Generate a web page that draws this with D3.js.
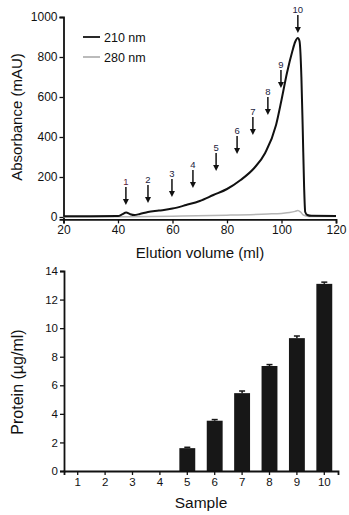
<!DOCTYPE html>
<html>
<head>
<meta charset="utf-8">
<script src="https://cdn.jsdelivr.net/npm/d3@7"></script>
<style>
body { margin: 0; background: #fff; }
svg text { font-family: "Liberation Sans", Arial, sans-serif; }
</style>
</head>
<body>
<svg id="chartSVG" width="349" height="515"></svg>
<script>
/* ---------- Data ---------- */
// 210 nm trace (elution volume in ml, absorbance in mAU)
const volume210 = [20, 30, 40, 41.5, 43, 44.5, 46, 48, 51, 55, 60, 65, 70, 75, 80, 85, 90, 94, 98, 100, 102, 104, 105, 106, 106.6, 107.3, 107.8, 108.3, 108.7, 109.5, 111, 120];
const abs210 = [4, 4, 5, 13, 22, 14, 10, 15, 25, 32, 42, 60, 80, 110, 140, 185, 245, 320, 460, 585, 720, 830, 875, 895, 880, 700, 435, 150, 25, 10, 6, 5];
// 280 nm trace
const volume280 = [20, 40, 60, 80, 95, 100, 103, 105, 106, 107, 108, 110, 120];
const abs280 = [0, 1, 4, 9, 15, 18, 22, 28, 33, 25, 10, 3, 2];
// fraction arrows
const fractionLabels = ["1", "2", "3", "4", "5", "6", "7", "8", "9", "10"];
const fractionVolume = [42.9, 51.0, 59.8, 67.5, 76.0, 83.7, 89.5, 95.0, 99.8, 106.0];
const fractionArrowTip = [60, 70, 100, 145, 230, 315, 410, 510, 645, 920];
const absTicks = [0, 200, 400, 600, 800, 1000];
const volumeTicks = [20, 40, 60, 80, 100, 120];

// protein bar chart
const samples = ["1", "2", "3", "4", "5", "6", "7", "8", "9", "10"];
const protein = [0, 0, 0, 0, 1.6, 3.52, 5.45, 7.35, 9.3, 13.1];
const proteinErr = [0, 0, 0, 0, 0.06, 0.08, 0.15, 0.1, 0.15, 0.12];
const proteinTicks = [0, 2, 4, 6, 8, 10, 12, 14];

var svg = d3.select("#chartSVG");

/* ---------- Top chart: chromatogram ---------- */
var volScale = d3.scaleLinear().domain([20, 120]).range([63.5, 336]);
var absScale = d3.scaleLinear().domain([-12, 1000]).range([219.4, 17]);

var styleAxis = function(g, fs) {
    g.select(".domain").attr("stroke", "#111").attr("stroke-width", 1.8);
    g.selectAll(".tick line").attr("stroke", "#111").attr("stroke-width", 1.3);
    g.selectAll(".tick text").attr("fill", "#111").style("font-size", fs + "px")
        .style("font-family", "'Liberation Sans', Arial, sans-serif");
};

var gx = svg.append("g")
    .attr("transform", "translate(0," + absScale(-12) + ")")
    .call(d3.axisBottom(volScale).tickValues(volumeTicks).tickFormat(d3.format("d"))
        .tickSizeOuter(0).tickSize(4).tickPadding(2));
styleAxis(gx, 12);
var gy = svg.append("g")
    .attr("transform", "translate(" + volScale(20) + ",0)")
    .call(d3.axisLeft(absScale).tickValues(absTicks).tickFormat(d3.format("d"))
        .tickSizeOuter(0).tickSize(4).tickPadding(2));
styleAxis(gy, 12);

var lineGen = d3.line().curve(d3.curveMonotoneX);
var pts280 = volume280.map((v, i) => [volScale(v), absScale(abs280[i])]);
var pts210 = volume210.map((v, i) => [volScale(v), absScale(abs210[i])]);
svg.append("path").attr("d", lineGen(pts280))
    .attr("fill", "none").attr("stroke", "#b4b4b4").attr("stroke-width", 1.5);
svg.append("path").attr("d", lineGen(pts210))
    .attr("fill", "none").attr("stroke", "#111").attr("stroke-width", 2);

// legend
var legend = svg.append("g");
[["210 nm", "#111"], ["280 nm", "#b4b4b4"]].forEach((d, i) => {
    legend.append("line").attr("x1", 83).attr("x2", 100)
        .attr("y1", 37 + i * 20).attr("y2", 37 + i * 20)
        .attr("stroke", d[1]).attr("stroke-width", 1.8);
    legend.append("text").attr("x", 104).attr("y", 41.5 + i * 20)
        .style("font-size", "12.5px").attr("fill", "#111").text(d[0]);
});

// fraction arrows
var arrows = svg.append("g");
fractionLabels.forEach((lab, i) => {
    var ax = volScale(fractionVolume[i]);
    var tip = absScale(fractionArrowTip[i]);
    arrows.append("line").attr("x1", ax).attr("x2", ax)
        .attr("y1", tip - 18).attr("y2", tip - 5)
        .attr("stroke", "#111").attr("stroke-width", 1.5);
    arrows.append("path")
        .attr("d", "M" + (ax - 3) + "," + (tip - 6) + "L" + (ax + 3) + "," + (tip - 6) + "L" + ax + "," + tip + "Z")
        .attr("fill", "#111");
    arrows.append("text").attr("x", ax).attr("y", tip - 20.5)
        .attr("text-anchor", "middle").style("font-size", "9.5px")
        .attr("fill", i == 0 ? "#5a1a3c" : "#1c2340").text(lab);
});

svg.append("text").attr("x", 200).attr("y", 258).attr("text-anchor", "middle")
    .style("font-size", "15px").attr("fill", "#111").text("Elution volume (ml)");
svg.append("text").attr("text-anchor", "middle").style("font-size", "15px").attr("fill", "#111")
    .attr("transform", "translate(22,117) rotate(-90)").text("Absorbance (mAU)");

/* ---------- Bottom chart: protein ---------- */
var sampleScale = d3.scaleBand().domain(samples).range([64, 338]).paddingInner(0.42).paddingOuter(0.21);
var proteinScale = d3.scaleLinear().domain([0, 14]).range([471, 271]);

var barGroup = svg.append("g");
samples.forEach((s, i) => {
    if (protein[i] <= 0) return;
    var bx = sampleScale(s);
    barGroup.append("rect")
        .attr("x", bx).attr("width", sampleScale.bandwidth())
        .attr("y", proteinScale(protein[i]))
        .attr("height", proteinScale(0) - proteinScale(protein[i]))
        .attr("fill", "#171717");
    var cx = bx + sampleScale.bandwidth() / 2;
    var top = proteinScale(protein[i] + proteinErr[i]);
    barGroup.append("line").attr("x1", cx).attr("x2", cx)
        .attr("y1", top).attr("y2", proteinScale(protein[i]))
        .attr("stroke", "#171717").attr("stroke-width", 1.5);
    barGroup.append("line").attr("x1", cx - 3).attr("x2", cx + 3)
        .attr("y1", top).attr("y2", top)
        .attr("stroke", "#171717").attr("stroke-width", 1.5);
});

var bx = svg.append("g")
    .attr("transform", "translate(0," + proteinScale(0) + ")")
    .call(d3.axisBottom(sampleScale).tickSizeOuter(0).tickSize(4).tickPadding(3));
styleAxis(bx, 11.5);
var by = svg.append("g")
    .attr("transform", "translate(64,0)")
    .call(d3.axisLeft(proteinScale).tickValues(proteinTicks).tickSizeOuter(0).tickSize(4).tickPadding(2));
styleAxis(by, 11.5);

svg.append("text").attr("x", 201).attr("y", 508).attr("text-anchor", "middle")
    .style("font-size", "15.5px").attr("fill", "#111").text("Sample");
svg.append("text").attr("text-anchor", "middle").style("font-size", "16px").attr("fill", "#111")
    .attr("transform", "translate(23,382) rotate(-90)").text("Protein (µg/ml)");
</script>
</body>
</html>
